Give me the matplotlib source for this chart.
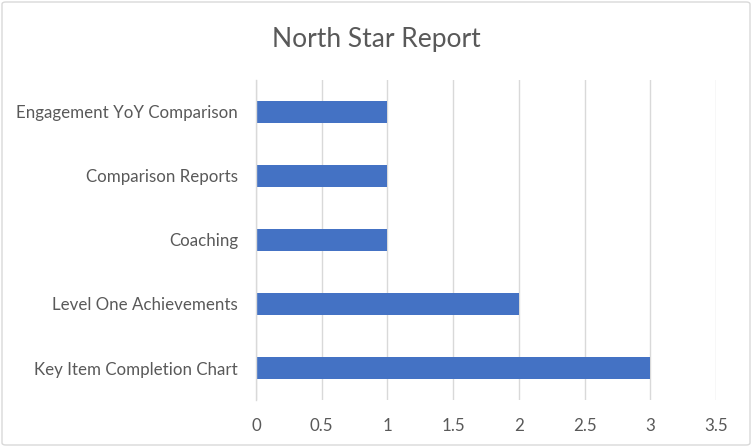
import matplotlib
matplotlib.use("Agg")
import matplotlib.pyplot as plt
from matplotlib.patches import FancyBboxPatch

categories = ["Key Item Completion Chart", "Level One Achievements", "Coaching",
              "Comparison Reports", "Engagement YoY Comparison"]
values = [3, 2, 1, 1, 1]
xticks = [0, 0.5, 1, 1.5, 2, 2.5, 3, 3.5]
xticklabels = ["0", "0.5", "1", "1.5", "2", "2.5", "3", "3.5"]

plt.rcParams['font.family'] = ['Lato', 'DejaVu Sans']
text_color = "#595959"

fig = plt.figure(figsize=(7.52, 4.47), dpi=100)
ax = fig.add_axes([256/752, 1-400/447, (716-256)/752, (400-80)/447])

ax.barh(range(len(categories)), values, height=0.35, color="#4472C4", zorder=3)
ax.set_ylim(-0.5, len(categories) - 0.5)
ax.set_xlim(0, 3.5)
ax.set_xticks(xticks)
ax.set_xticklabels(xticklabels)
ax.set_yticks(range(len(categories)))
ax.set_yticklabels(categories)
ax.tick_params(axis='both', length=0, labelsize=12.2, colors=text_color)
ax.tick_params(axis='x', pad=13)
ax.tick_params(axis='y', pad=13)
ax.grid(axis='x', color="#D9D9D9", linewidth=1, zorder=0)
for s in ["top", "right", "bottom"]:
    ax.spines[s].set_visible(False)
ax.spines["left"].set_color("#D9D9D9")
ax.spines["left"].set_linewidth(1)
ax.spines["left"].set_zorder(4)

fig.text(376/752, 1-40/447, "North Star Report", ha="center", va="center",
         fontsize=19, color=text_color)

border = FancyBboxPatch((2/752, 2/447), 748/752, 443/447,
                        boxstyle="round,pad=0,rounding_size=0.005",
                        transform=fig.transFigure, fill=False,
                        edgecolor="#D9D9D9", linewidth=1)
fig.patches.append(border)

fig.savefig("out.png", dpi=100)
